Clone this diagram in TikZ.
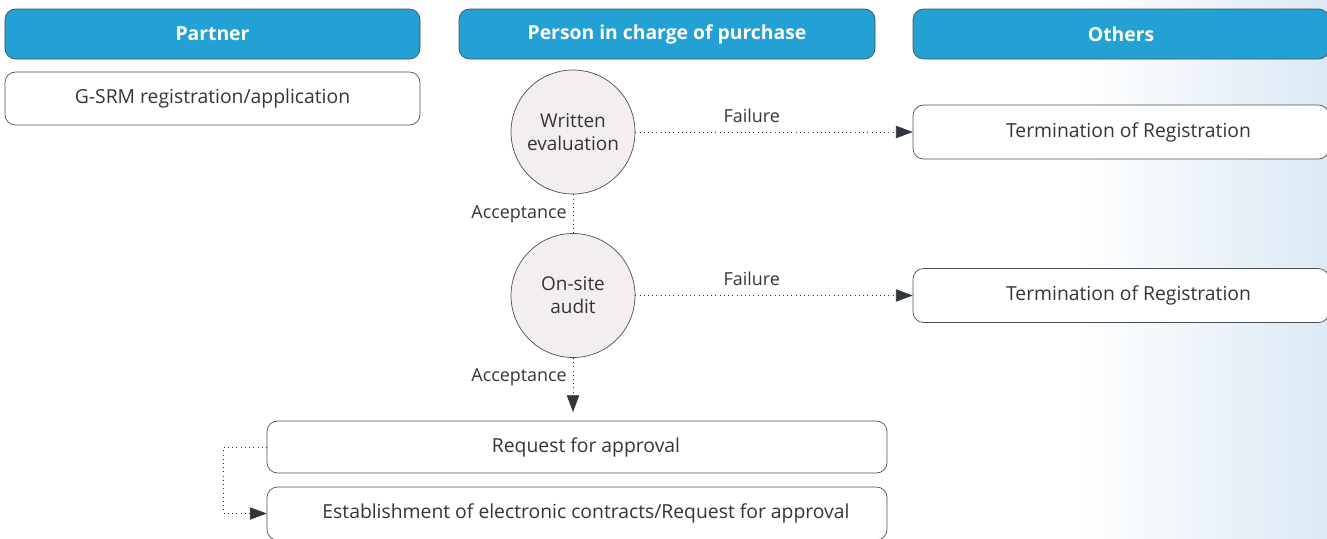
\documentclass[tikz,border=0pt]{standalone}
\usepackage{fontspec}
\setmainfont{Open Sans}
\usetikzlibrary{arrows.meta}

\definecolor{headblue}{HTML}{23A1D4}
\definecolor{edgegray}{HTML}{4A4F55}
\definecolor{txtgray}{HTML}{30363C}
\definecolor{circfill}{HTML}{F4EEEE}
\definecolor{sideblue}{HTML}{DCE9F4}

\tikzset{
  header/.style={draw=edgegray, fill=headblue, rounded corners=6pt, text=white,
    font=\fontsize{11}{13}\selectfont\bfseries, minimum width=8.3cm, minimum height=1.0cm},
  box/.style={draw=edgegray, fill=white, rounded corners=6pt, text=txtgray,
    font=\fontsize{11}{13}\selectfont, minimum height=1.06cm, text depth=0.5ex},
  stage/.style={circle, draw=edgegray, fill=circfill, text=txtgray, align=center,
    font=\fontsize{10.8}{13}\selectfont, minimum size=2.48cm, inner sep=0pt},
  flow/.style={dotted, draw=txtgray, -{Triangle[length=9.5pt,width=7pt]}},
  lbl/.style={text=txtgray, font=\fontsize{10.2}{12}\selectfont}
}

\begin{document}
\begin{tikzpicture}
\useasboundingbox (0,0) rectangle (26.54,-10.76);
\shade[left color=white, right color=sideblue] (21.6,0) rectangle (26.54,-10.76);

% lanes
\node[header] (partner) at (4.25,-0.68) {Partner};
\node[header, minimum width=8.32cm] (buyer) at (13.34,-0.68) {Person in charge of purchase};
\node[header, minimum width=8.32cm] (others) at (22.42,-0.68) {Others};

% steps
\node[box, minimum width=8.3cm] (apply) at (4.25,-1.97) {G-SRM registration/application};
\node[stage] (written) at (11.46,-2.64) {Written\\evaluation};
\node[stage] (onsite) at (11.46,-5.91) {On-site\\audit};
\node[box, minimum width=8.32cm, minimum height=1.08cm] (term1) at (22.42,-2.64) {\hspace*{0.3cm}Termination of Registration};
\node[box, minimum width=8.32cm, minimum height=1.08cm] (term2) at (22.42,-5.91) {\hspace*{0.3cm}Termination of Registration};
\node[box, minimum width=12.4cm, minimum height=1.04cm] (request) at (11.54,-8.94) {\hspace*{0.36cm}Request for approval};
\node[box, minimum width=12.4cm] (contract) at (11.54,-10.27) {\hspace*{0.36cm}Establishment of electronic contracts/Request for approval};

\coordinate (toreq) at (11.46,-8.24);

% connectors
\draw[flow] (written.east) -- node[lbl, above, pos=0.42, yshift=2pt] {Failure} (term1.west);
\draw[flow] (onsite.east) -- node[lbl, above, pos=0.42, yshift=2pt] {Failure} (term2.west);
\draw[dotted, draw=txtgray] (written.south) -- node[lbl, left] {Acceptance} (onsite.north);
\draw[flow] (onsite.south) -- node[lbl, left, pos=0.35] {Acceptance} (toreq);
\draw[flow] (request.west) -| ([xshift=-0.86cm]contract.west) -- (contract.west);
\end{tikzpicture}
\end{document}
